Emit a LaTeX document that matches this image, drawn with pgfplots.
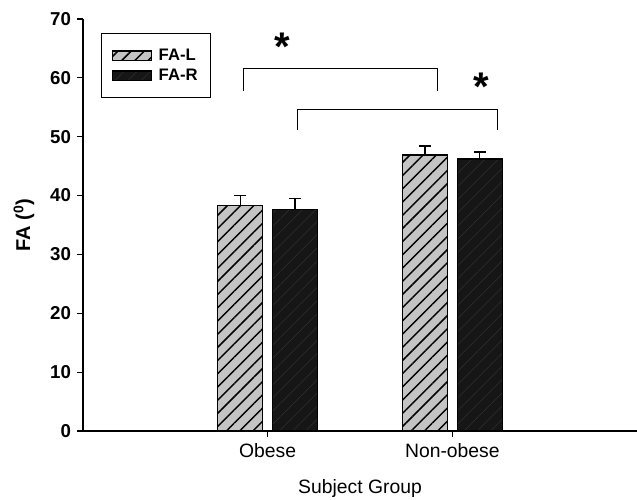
\documentclass[border=0pt]{standalone}
\usepackage{pgfplots}
\pgfplotsset{compat=1.18}
\usepackage{fontspec}
\setmainfont{Liberation Sans}
\usetikzlibrary{patterns.meta}
\definecolor{lgray}{HTML}{C4C4C4}
\definecolor{dgray}{HTML}{161616}
\begin{document}
\begin{tikzpicture}
\begin{axis}[
  name=ax,
  scale only axis,
  width=415.5pt, height=309pt,
  xmin=0, xmax=3, ymin=0, ymax=70,
  axis x line*=bottom, axis y line*=left,
  axis line style={-, line width=0.9pt},
  xtick={1,2}, xticklabels={Obese, Non-obese},
  ytick={0,10,...,70},
  tick align=outside, major tick length=4.5pt,
  tick style={black, line width=0.9pt},
  /pgf/number format/assume math mode=true,
  yticklabel style={font=\bfseries\fontsize{14}{16}\selectfont, xshift=-1pt},
  xticklabel style={font=\fontsize{14.5}{16}\selectfont, yshift=-1pt},
  xlabel={Subject Group}, ylabel={FA (\textsuperscript{0})},
  xlabel style={font=\fontsize{14.5}{16}\selectfont, yshift=-9.5pt},
  ylabel style={font=\bfseries\fontsize{15}{17}\selectfont, yshift=5pt},
  ybar, bar width=33.75pt,
  clip=false,
  legend cell align=left,
  legend style={at={(0,1)}, anchor=north west, xshift=13.5pt, yshift=-10.5pt,
    draw=black, line width=0.8pt, font=\bfseries\fontsize{12.5}{14}\selectfont,
    row sep=1pt, inner xsep=8pt, inner ysep=9.5pt},
  legend image code/.code={\draw[#1] (0pt,-3.5pt) rectangle (29pt,3.5pt);},
  error bars/y dir=plus, error bars/y explicit,
  error bars/error bar style={black, line width=1pt},
  error bars/error mark options={rotate=90, mark size=4.5pt, line width=1pt, black},
]
\addplot[bar shift=-20.6pt, draw=black, line width=0.9pt, fill=lgray,
  postaction={pattern={Lines[angle=45,distance=7pt,line width=1.1pt]}, pattern color=black}]
  coordinates {(1,38.3) +- (0,1.7) (2,46.9) +- (0,1.5)};
\addlegendentry{\hspace{3pt}FA-L\hspace{13pt}}
\addplot[bar shift=20.6pt, draw=black, line width=0.9pt, fill=dgray,
  postaction={pattern={Lines[angle=45,distance=7pt,line width=0.4pt]}, pattern color=gray!25!dgray}]
  coordinates {(1,37.7) +- (0,1.8) (2,46.2) +- (0,1.2)};
\addlegendentry{\hspace{3pt}FA-R\hspace{13pt}}
\draw[line width=0.7pt] (axis cs:0.867,57.8) |- (axis cs:1.918,61.6) -- (axis cs:1.918,57.8);
\draw[line width=0.7pt] (axis cs:1.164,51.1) |- (axis cs:2.242,54.7) -- (axis cs:2.242,51.1);
\node[font=\bfseries\fontsize{30}{32}\selectfont, anchor=north, inner sep=0pt] at (axis cs:1.080,67.6) {*};
\node[font=\bfseries\fontsize{30}{32}\selectfont, anchor=north, inner sep=0pt] at (axis cs:2.158,60.8) {*};
\end{axis}
\pgfresetboundingbox
\useasboundingbox ([xshift=-62.25pt, yshift=-51pt]ax.south west) rectangle ([yshift=14.25pt]ax.north east);
\end{tikzpicture}
\end{document}
